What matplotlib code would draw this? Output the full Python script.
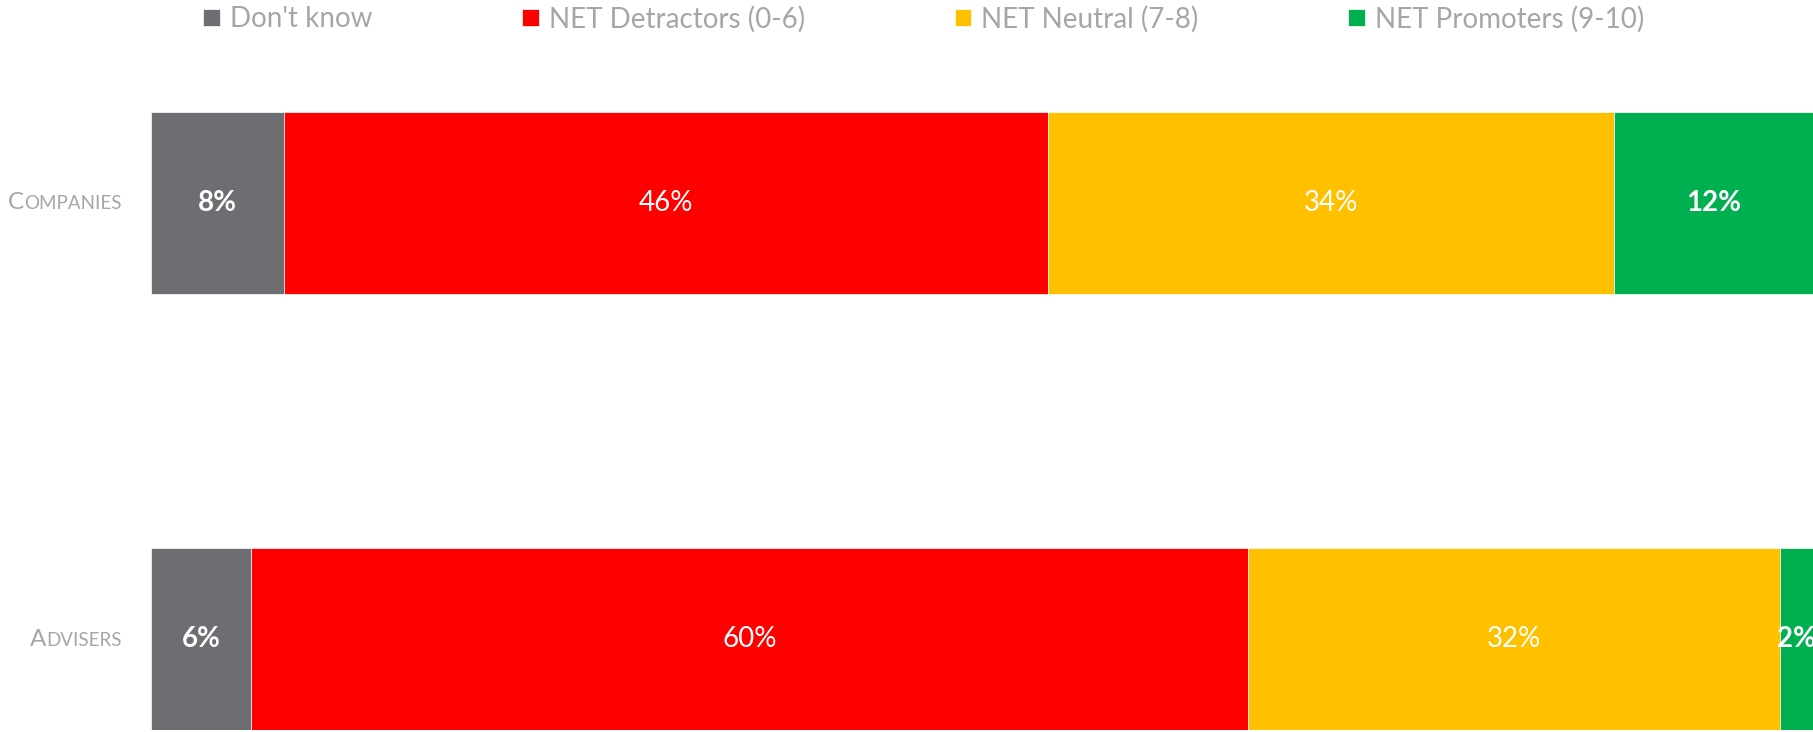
import numpy as np
import matplotlib as mpl
mpl.use("Agg")
import matplotlib.pyplot as plt
from matplotlib.offsetbox import TextArea, HPacker, AnnotationBbox

# ---------------------------------------------------------------------------
# Data (bottom row first)
# ---------------------------------------------------------------------------
categories = ["Advisers", "Companies"]
series_names = ["Don't know", "NET Detractors (0-6)", "NET Neutral (7-8)", "NET Promoters (9-10)"]
dont_know = [6, 8]
detractors = [60, 46]
neutral = [32, 34]
promoters = [2, 12]

colors = ["#6D6E71", "#FF0000", "#FFC000", "#00B050"]
label_weights = ["bold", "normal", "normal", "bold"]
TEXT_GREY = "#A6A6A6"
FONT = ["Lato", "DejaVu Sans"]

mpl.rcParams.update({
    "font.family": FONT,
    "font.size": 20,
})

# ---------------------------------------------------------------------------
# Figure
# ---------------------------------------------------------------------------
W, H = 1813, 732
fig = plt.figure(figsize=(W / 100, H / 100), dpi=100)
ax = fig.add_axes([151 / W, 2 / H, 1 - 151 / W, 618 / H])

bar_h = 0.417
y = np.arange(len(categories))
left = np.zeros(len(categories))

for name, vals, col, wt in zip(series_names,
                               [dont_know, detractors, neutral, promoters],
                               colors, label_weights):
    vals = np.array(vals, dtype=float)
    bars = ax.barh(y, vals, left=left, height=bar_h, color=col,
                   edgecolor="white", linewidth=0.5, label=name)
    ax.bar_label(bars, labels=[f"{v:g}%" for v in vals], label_type="center",
                 color="white", fontsize=20, fontweight=wt, clip_on=False)
    left += vals

ax.set_xlim(0, 100)
ax.set_ylim(-bar_h / 2, 1 + bar_h / 2)
ax.axis("off")

# category labels in small caps
for yi, cat in zip(y, categories):
    up = cat.upper()
    parts = [
        TextArea(up[0], textprops=dict(fontsize=17.5, color=TEXT_GREY, family=FONT)),
        TextArea(up[1:], textprops=dict(fontsize=13.5, color=TEXT_GREY, family=FONT)),
    ]
    pack = HPacker(children=parts, align="baseline", pad=0, sep=0)
    ab = AnnotationBbox(pack, (0, yi), xycoords=("axes fraction", "data"),
                        xybox=(-21, 0), boxcoords="offset points",
                        box_alignment=(1, 0.5), frameon=False,
                        annotation_clip=False)
    ax.add_artist(ab)

# legend
leg = fig.legend(loc="upper left", bbox_to_anchor=(202 / W, 1 - 4 / H), ncol=4,
                 frameon=False, fontsize=20, handlelength=0.6,
                 handleheight=0.6, handletextpad=0.35, columnspacing=5.4,
                 borderpad=0.05, borderaxespad=0)
for t in leg.get_texts():
    t.set_color(TEXT_GREY)

fig.savefig("out.png", dpi=100)
